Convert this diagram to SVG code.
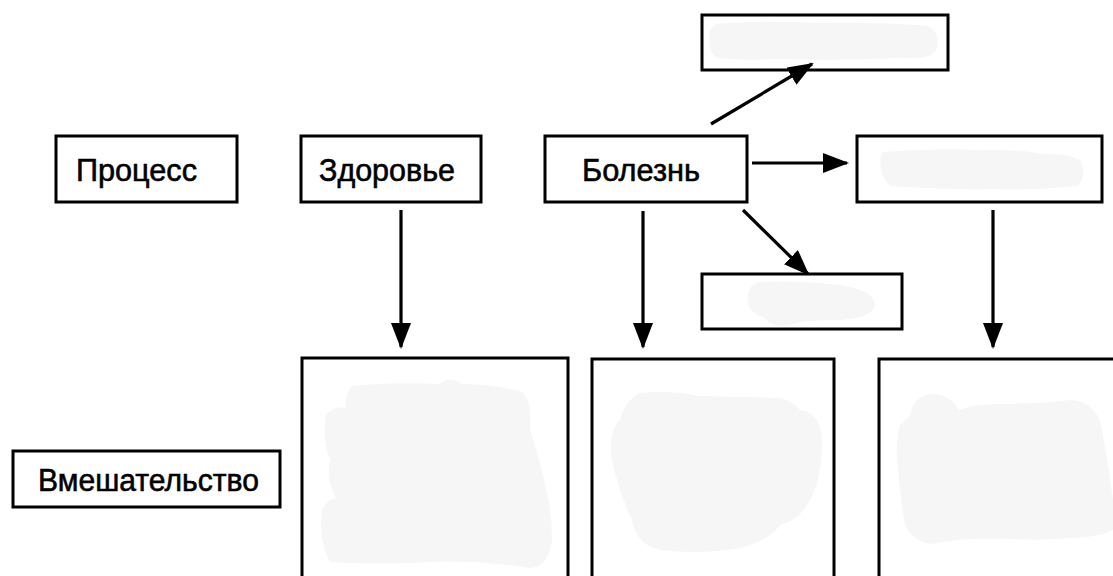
<svg xmlns="http://www.w3.org/2000/svg" width="1113" height="576" viewBox="0 0 1113 576">
  <style>
    .box { fill: #ffffff; stroke: #000000; stroke-width: 3; }
    .smudge { fill: #f6f6f6; stroke: none; }
    .label { font-family: "Liberation Sans", Arial, sans-serif; font-size: 32px; fill: #000000; stroke: #000000; stroke-width: 0.6; }
    .edge { stroke: #000000; stroke-width: 3.2; fill: none; marker-end: url(#head); }
  </style>
  <defs>
    <marker id="head" viewBox="0 0 26 20" refX="24" refY="10" markerWidth="26" markerHeight="20" markerUnits="userSpaceOnUse" orient="auto">
      <path d="M0,0 L26,10 L0,20 Z" fill="#000000"/>
    </marker>
  </defs>
  <rect width="1113" height="576" fill="#ffffff"/>

  <!-- row labels -->
  <g id="process">
    <rect class="box" x="56" y="136" width="181" height="66"/>
    <text class="label" x="76" y="181" textLength="121" lengthAdjust="spacingAndGlyphs">Процесс</text>
  </g>
  <g id="intervention">
    <rect class="box" x="13" y="451" width="267" height="56"/>
    <text class="label" x="38" y="491" textLength="221" lengthAdjust="spacingAndGlyphs">Вмешательство</text>
  </g>

  <!-- process states -->
  <g id="health">
    <rect class="box" x="301" y="136" width="180" height="66"/>
    <text class="label" x="319" y="181" textLength="136" lengthAdjust="spacingAndGlyphs">Здоровье</text>
  </g>
  <g id="disease">
    <rect class="box" x="545" y="136" width="202" height="66"/>
    <text class="label" x="582" y="181" textLength="118" lengthAdjust="spacingAndGlyphs">Болезнь</text>
  </g>
  <g id="outcome-top">
    <rect class="box" x="702" y="15" width="246" height="55"/>
    <path class="smudge" d="M716,24 Q760,20 820,23 Q880,22 928,26 Q940,32 937,48 Q934,60 900,58 Q840,61 780,59 Q730,61 714,57 Q707,45 710,30 Z"/>
  </g>
  <g id="outcome-right">
    <rect class="box" x="857" y="136" width="245" height="66"/>
    <path class="smudge" d="M882,152 Q930,148 980,150 Q1020,149 1040,154 Q1070,153 1080,160 Q1088,175 1078,186 Q1040,190 990,189 Q940,190 890,186 Q876,172 882,152 Z"/>
  </g>
  <g id="outcome-low">
    <rect class="box" x="702" y="274" width="200" height="55"/>
    <path class="smudge" d="M760,282 Q800,280 840,285 Q874,290 875,305 Q873,318 840,320 Q800,320 790,325 Q770,328 765,318 Q745,312 748,295 Q750,283 760,282 Z"/>
  </g>

  <!-- intervention cells -->
  <g id="cell-health">
    <rect class="box" x="302" y="358" width="266" height="240"/>
    <path class="smudge" d="M352,386 Q390,382 440,384 Q450,375 462,384 Q500,385 522,392 Q532,400 530,430 Q540,460 545,485 Q552,510 552,540 Q548,568 530,568 Q480,560 430,562 Q380,565 330,562 Q318,540 322,510 Q326,500 336,498 Q326,480 330,460 Q322,440 326,415 Q335,405 345,408 Q346,392 352,386 Z"/>
  </g>
  <g id="cell-disease">
    <rect class="box" x="592" y="359" width="242" height="240"/>
    <path class="smudge" d="M640,393 Q670,390 700,396 Q740,397 780,398 Q795,402 800,410 Q820,412 822,440 Q822,480 810,500 Q800,520 780,525 Q770,540 740,548 Q700,555 660,550 Q636,545 632,520 Q618,490 612,460 Q608,430 620,420 Q625,400 640,393 Z"/>
  </g>
  <g id="cell-outcome">
    <rect class="box" x="879" y="359" width="240" height="240"/>
    <path class="smudge" d="M910,416 Q912,395 935,394 Q952,396 958,410 Q975,404 1000,404 Q1040,404 1070,400 Q1090,400 1100,420 Q1108,460 1113,500 L1113,530 Q1100,537 1070,538 Q1040,541 1010,539 Q970,537 930,544 Q912,540 905,525 Q900,495 898,470 Q895,440 900,425 Z"/>
  </g>

  <!-- connectors -->
  <g id="connectors">
    <line class="edge" x1="401" y1="210" x2="401" y2="347"/>
    <line class="edge" x1="643" y1="211" x2="643" y2="347"/>
    <line class="edge" x1="993" y1="210" x2="993" y2="347"/>
    <line class="edge" x1="752" y1="163" x2="847" y2="163"/>
    <line class="edge" x1="711" y1="124" x2="812" y2="64"/>
    <line class="edge" x1="743" y1="210" x2="808" y2="274"/>
  </g>
</svg>
